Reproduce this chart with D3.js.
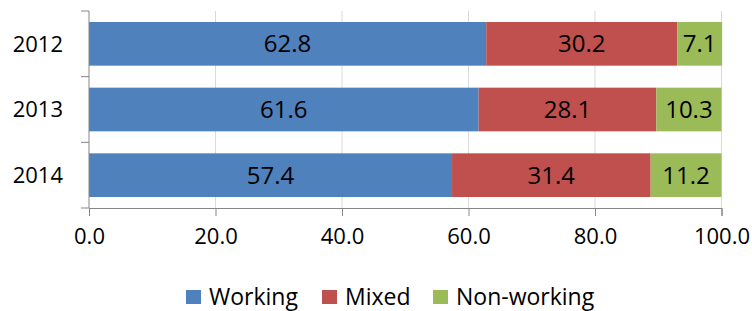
<!DOCTYPE html>
<html>
<head>
<meta charset="utf-8">
<script src="https://cdn.jsdelivr.net/npm/d3@7"></script>
<style>
  body { margin: 0; background: #fff; }
  svg text { font-family: "Open Sans", "DejaVu Sans", sans-serif; fill: #000; }
</style>
</head>
<body>
<svg id="chart" width="752" height="311"></svg>
<script>
// Chart data
var years = ["2012", "2013", "2014"];
var seriesNames = ["Working", "Mixed", "Non-working"];
var working = [62.8, 61.6, 57.4];
var mixed = [30.2, 28.1, 31.4];
var nonWorking = [7.1, 10.3, 11.2];
var xTicks = [0, 20, 40, 60, 80, 100];

var colors = ["#4F81BD", "#C0504D", "#9BBB59"];

// Build rows for the stack layout
var rows = years.map(function (y, i) {
    return { year: y, "Working": working[i], "Mixed": mixed[i], "Non-working": nonWorking[i] };
});

var svg = d3.select("#chart");
var plotLeft = 89, plotRight = 721.5, plotTop = 11, plotBottom = 208;

var x = d3.scaleLinear().domain([0, 100]).range([plotLeft, plotRight]);
var y = d3.scaleBand().domain(years).range([plotTop, plotBottom]).paddingInner(0.335).paddingOuter(0.1675);

// Vertical gridlines
svg.append("g")
    .selectAll("line")
    .data(xTicks.slice(1))
    .enter()
    .append("line")
    .attr("x1", function (d) { return x(d); })
    .attr("x2", function (d) { return x(d); })
    .attr("y1", plotTop)
    .attr("y2", plotBottom)
    .attr("stroke", "#d9d9d9")
    .attr("stroke-width", 1);

// Stacked bars
var stacked = d3.stack().keys(seriesNames)(rows);

var layers = svg.append("g")
    .selectAll("g")
    .data(stacked)
    .enter()
    .append("g")
    .attr("fill", function (d, i) { return colors[i]; });

layers.selectAll("rect")
    .data(function (d) { return d; })
    .enter()
    .append("rect")
    .attr("x", function (d) { return x(d[0]); })
    .attr("y", function (d) { return y(d.data.year); })
    .attr("width", function (d) { return x(d[1]) - x(d[0]); })
    .attr("height", y.bandwidth());

// Data labels in the middle of each segment
layers.selectAll("text")
    .data(function (d) { return d; })
    .enter()
    .append("text")
    .attr("x", function (d) { return (x(d[0]) + x(d[1])) / 2; })
    .attr("y", function (d) { return y(d.data.year) + y.bandwidth() / 2; })
    .attr("dy", "0.36em")
    .attr("text-anchor", "middle")
    .style("font-size", "24px")
    .style("fill", "#000")
    .text(function (d) { return d3.format(".1f")(d[1] - d[0]); });

// Bottom axis
var xAxis = svg.append("g")
    .attr("transform", "translate(0," + plotBottom + ")")
    .call(d3.axisBottom(x).tickValues(xTicks).tickFormat(d3.format(".1f")).tickSizeOuter(0).tickSize(8).tickPadding(12));
xAxis.select(".domain").attr("stroke", "#868686");
xAxis.selectAll(".tick line").attr("stroke", "#868686");
xAxis.selectAll("text").style("font-size", "22px").attr("font-family", null).attr("fill", "#000");

// Left axis with ticks between categories
svg.append("line")
    .attr("x1", plotLeft).attr("x2", plotLeft)
    .attr("y1", plotTop).attr("y2", plotBottom)
    .attr("stroke", "#868686");

var boundaries = d3.range(years.length + 1).map(function (i) {
    return plotTop + i * (plotBottom - plotTop) / years.length;
});
svg.append("g")
    .selectAll("line")
    .data(boundaries)
    .enter()
    .append("line")
    .attr("x1", plotLeft - 8).attr("x2", plotLeft)
    .attr("y1", function (d) { return d; })
    .attr("y2", function (d) { return d; })
    .attr("stroke", "#868686");

svg.append("g")
    .selectAll("text")
    .data(years)
    .enter()
    .append("text")
    .attr("x", plotLeft - 26)
    .attr("y", function (d) { return y(d) + y.bandwidth() / 2; })
    .attr("dy", "0.36em")
    .attr("text-anchor", "end")
    .style("font-size", "22px")
    .text(function (d) { return d; });

// Legend
var legendX = [186, 322, 433];
var legend = svg.append("g")
    .selectAll("g")
    .data(seriesNames)
    .enter()
    .append("g")
    .attr("transform", function (d, i) { return "translate(" + legendX[i] + ",290)"; });

legend.append("rect")
    .attr("width", 15)
    .attr("height", 14)
    .attr("fill", function (d, i) { return colors[i]; });

legend.append("text")
    .attr("x", 23)
    .attr("y", 7)
    .attr("dy", "0.36em")
    .style("font-size", "23px")
    .text(function (d) { return d; });
</script>
</body>
</html>
